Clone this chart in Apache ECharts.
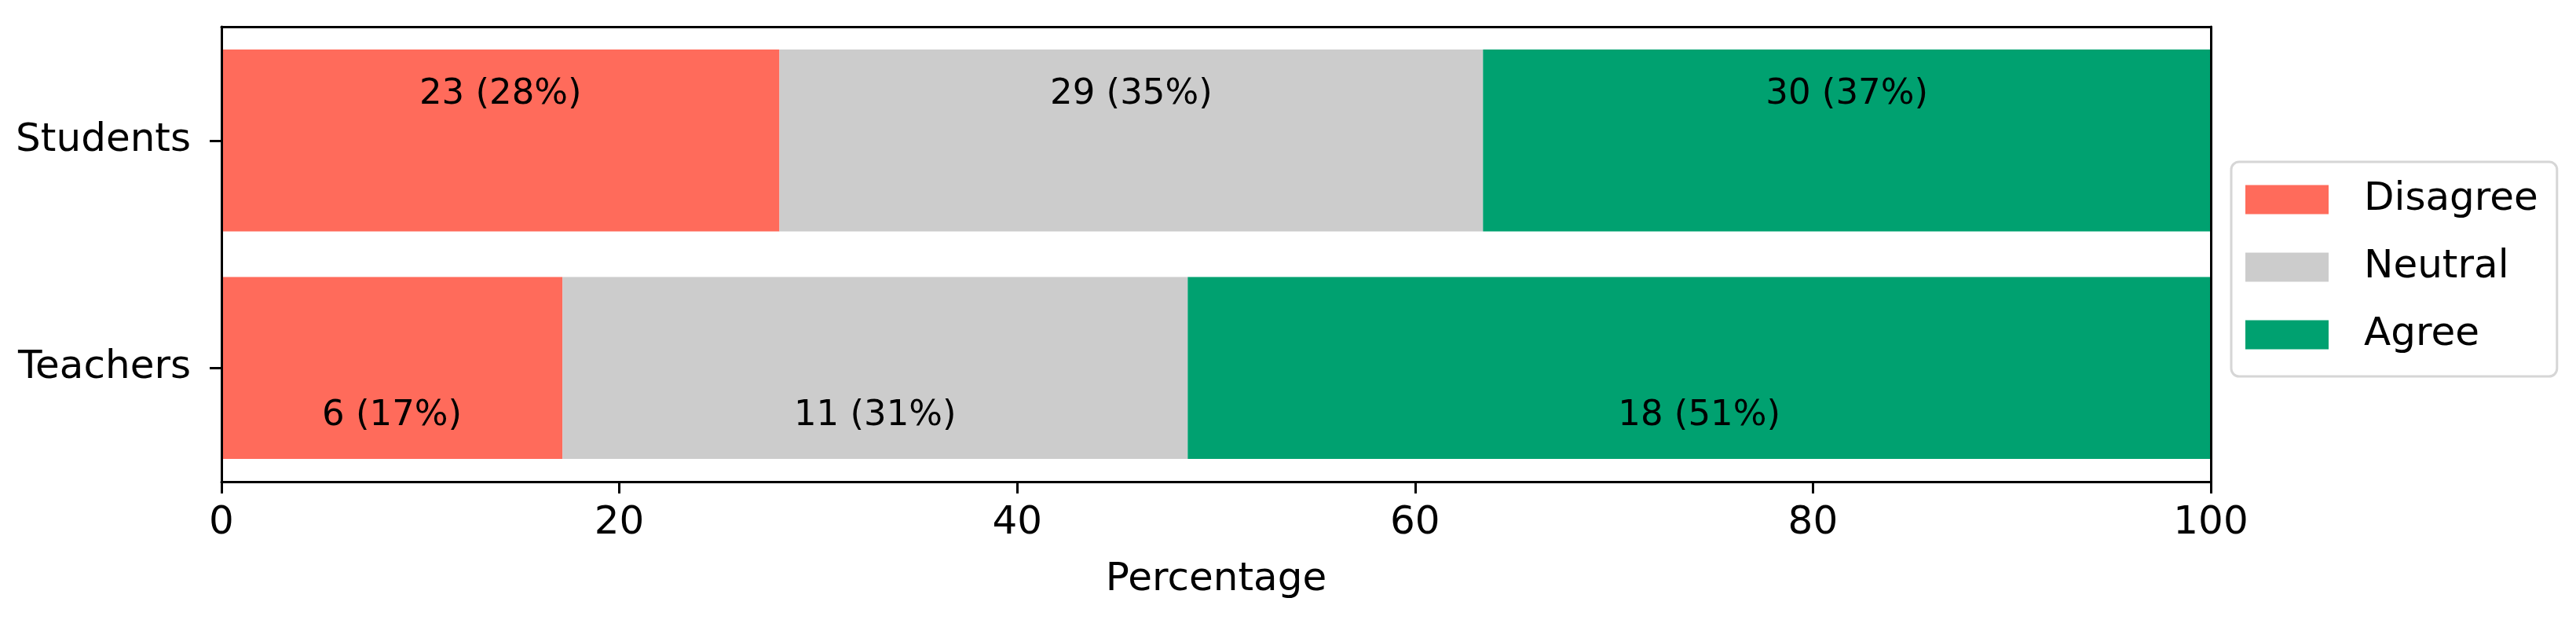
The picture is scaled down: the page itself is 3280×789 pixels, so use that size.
<!DOCTYPE html>
<html>
<head>
<meta charset="utf-8">
<title>Agreement by group</title>
<script src="https://cdn.jsdelivr.net/npm/echarts@6/dist/echarts.min.js"></script>
<style>
  html, body { margin: 0; padding: 0; background: #fff; }
  #chart { width: 3280px; height: 789px; }
</style>
</head>
<body>
<div id="chart"></div>
<script>
// groups shown top to bottom
const groups = ["Students", "Teachers"];
const responses = ["Disagree", "Neutral", "Agree"];
const colors = ["#ff6b5b", "#cccccc", "#00a170"];

// response counts per group
const disagreeCounts = [23, 6];
const neutralCounts = [29, 11];
const agreeCounts = [30, 18];

const xTicks = [0, 20, 40, 60, 80, 100];

const countsByResponse = [disagreeCounts, neutralCounts, agreeCounts];
const totals = groups.map((g, i) =>
  countsByResponse.reduce((s, arr) => s + arr[i], 0)
);

// labels sit near the top of the upper bar and near the bottom of the lower one
const labelOffsets = [[0, -58], [0, 61]];

const font = "DejaVu Sans";

const chart = echarts.init(document.getElementById("chart"), null, { renderer: "canvas" });

const series = responses.map((name, r) => ({
  name: name,
  type: "bar",
  stack: "total",
  barCategoryGap: "20%",
  itemStyle: { color: colors[r] },
  label: {
    show: true,
    position: "inside",
    color: "#000",
    fontFamily: font,
    fontSize: 45,
    formatter: (p) => {
      const c = countsByResponse[r][p.dataIndex];
      return c + " (" + Math.round(c / totals[p.dataIndex] * 100) + "%)";
    }
  },
  data: groups.map((g, i) => ({
    value: countsByResponse[r][i] / totals[i] * 100,
    label: { offset: labelOffsets[i] }
  }))
}));

const option = {
  animation: false,
  backgroundColor: "#fff",
  grid: {
    left: 282,
    right: 465,
    top: 34,
    bottom: 176,
    containLabel: false,
    outerBoundsMode: "none"
  },
  legend: {
    orient: "vertical",
    left: 2841,
    top: 206,
    padding: [23, 24, 28, 18],
    itemWidth: 106,
    itemHeight: 37,
    itemGap: 36,
    icon: "rect",
    borderColor: "#d6d6d6",
    borderWidth: 3,
    borderRadius: 10,
    backgroundColor: "#fff",
    textStyle: {
      fontFamily: font,
      fontSize: 50,
      color: "#000",
      lineHeight: 37,
      padding: [0, 0, 0, 40]
    },
    data: responses
  },
  xAxis: [
    {
      type: "value",
      min: 0,
      max: 100,
      interval: 20,
      z: 5,
      name: "Percentage",
      nameLocation: "middle",
      nameGap: 100,
      nameTextStyle: { fontFamily: font, fontSize: 50, color: "#000" },
      axisLine: { show: true, lineStyle: { color: "#000", width: 3 } },
      axisTick: { show: true, length: 15, lineStyle: { color: "#000", width: 3 } },
      axisLabel: {
        fontFamily: font,
        fontSize: 50,
        color: "#000",
        margin: 28,
        formatter: (v) => (xTicks.includes(v) ? String(v) : "")
      },
      splitLine: { show: false }
    },
    {
      type: "value",
      position: "top",
      min: 0,
      max: 100,
      z: 5,
      axisLine: { show: true, onZero: false, lineStyle: { color: "#000", width: 3 } },
      axisTick: { show: false },
      axisLabel: { show: false },
      splitLine: { show: false }
    }
  ],
  yAxis: [
    {
      type: "category",
      data: groups,
      inverse: true,
      z: 5,
      axisLine: { show: true, onZero: false, lineStyle: { color: "#000", width: 3 } },
      axisTick: { show: true, alignWithLabel: true, length: 15, lineStyle: { color: "#000", width: 3 } },
      axisLabel: { fontFamily: font, fontSize: 50, color: "#000", margin: 39 }
    },
    {
      type: "category",
      data: groups,
      inverse: true,
      position: "right",
      z: 5,
      axisLine: { show: true, onZero: false, lineStyle: { color: "#000", width: 3 } },
      axisTick: { show: false },
      axisLabel: { show: false }
    }
  ],
  series: series
};

chart.setOption(option);
</script>
</body>
</html>
